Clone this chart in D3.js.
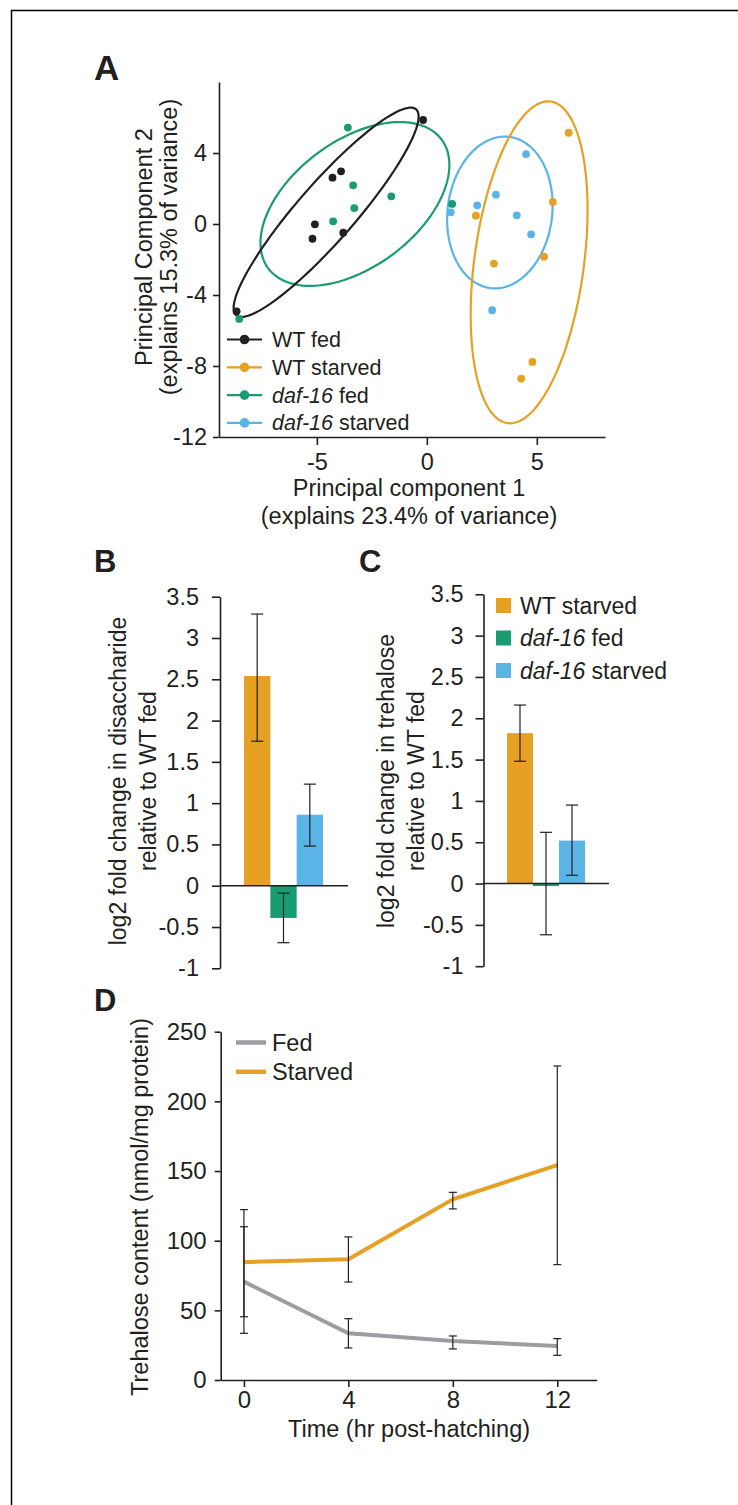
<!DOCTYPE html>
<html>
<head>
<meta charset="utf-8">
<script src="https://cdn.jsdelivr.net/npm/d3@7"></script>
<style>
  body { margin: 0; background: #fff; }
  text { font-family: "Liberation Sans", Arial, sans-serif; fill: #231f20; }
</style>
</head>
<body>
<div id="figure"></div>
<script>
// panel A - PCA scores (PC1, PC2) for each group
var pcaGroups = ["WT fed", "WT starved", "daf-16 fed", "daf-16 starved"];
var wtFedPC1 = [-0.17, -3.9, -4.29, -5.09, -5.2, -3.8, -8.65];
var wtFedPC2 = [5.86, 2.97, 2.61, -0.02, -0.83, -0.49, -4.92];
var wtStarvedPC1 = [6.45, 5.73, 2.23, 3.05, 5.33, 4.8, 4.29];
var wtStarvedPC2 = [5.14, 1.24, 0.47, -2.23, -1.84, -7.77, -8.71];
var dafFedPC1 = [-3.59, -3.35, -3.3, -4.26, -1.62, -8.53, 1.15];
var dafFedPC2 = [5.43, 2.18, 0.9, 0.15, 1.56, -5.35, 1.13];
var dafStarvedPC1 = [1.09, 2.29, 3.14, 4.51, 4.09, 4.74, 2.97];
var dafStarvedPC2 = [0.66, 1.05, 1.65, 3.94, 0.49, -0.58, -4.86];

// confidence ellipses (centre and two conjugate semi-axes, in PC units), same order as pcaGroups
var ellipseCX = [-4.58, 4.65, -3.27, 3.32];
var ellipseCY = [0.66, -2.16, 1.13, 0.65];
var ellipseUX = [4.09, 0.98, 3.94, 0.43];
var ellipseUY = [5.80, 9.06, 3.63, 4.26];
var ellipseVX = [0.98, 2.47, 1.71, 2.36];
var ellipseVY = [-1.06, -0.41, -2.85, -0.37];

var pcaXTicks = [-5, 0, 5];
var pcaYTicks = [-12, -8, -4, 0, 4];

// panels B and C - log2 fold change relative to WT fed
var barGroups = ["WT starved", "daf-16 fed", "daf-16 starved"];
var disaccharideMean = [2.54, -0.39, 0.86];
var disaccharideLow = [1.75, -0.69, 0.48];
var disaccharideHigh = [3.29, -0.09, 1.23];
var trehaloseMean = [1.82, -0.03, 0.52];
var trehaloseLow = [1.48, -0.62, 0.10];
var trehaloseHigh = [2.16, 0.62, 0.95];
var foldTicks = [-1, -0.5, 0, 0.5, 1, 1.5, 2, 2.5, 3, 3.5];

// panel D - trehalose content over time
var hours = [0, 4, 8, 12];
var fedMean = [70.6, 33.5, 28, 24.4];
var fedLow = [33.5, 23, 22.3, 17.7];
var fedHigh = [110, 44, 31.6, 29.7];
var starvedMean = [84.6, 86.6, 129.7, 154.3];
var starvedLow = [45.4, 70.3, 122.8, 82.8];
var starvedHigh = [122.3, 102.7, 134.7, 225.4];
var contentTicks = [0, 50, 100, 150, 200, 250];

var ink = "#231f20";
var groupColors = ["#231f20", "#E6A024", "#1A9C72", "#5AB4E6"];
var barColors = groupColors.slice(1);
var lineColors = ["#9C9DA0", "#E6A024"];

var svg = d3.select("#figure").append("svg")
  .attr("width", 738)
  .attr("height", 1505);

svg.append("rect").attr("width", 738).attr("height", 1505).attr("fill", "#fff");

// frame lines at top / left
svg.append("path").attr("d", "M11.5,1505V10.5H738").attr("fill", "none").attr("stroke", "#000").attr("stroke-width", 1.5);

function styleAxis(g, size) {
  g.select(".domain").attr("stroke", ink).attr("stroke-width", 1.6);
  g.selectAll(".tick line").attr("stroke", ink).attr("stroke-width", 1.6);
  g.selectAll(".tick text").attr("font-size", size).attr("fill", ink)
    .attr("font-family", "'Liberation Sans', Arial, sans-serif");
}

function panelLetter(label, x, y, size) {
  svg.append("text").attr("x", x).attr("y", y).attr("font-size", size)
    .attr("font-weight", "bold").text(label);
}

function groupLabel(sel, name) {
  // italic gene name
  if (name.indexOf("daf-16") === 0) {
    sel.append("tspan").attr("font-style", "italic").text("daf-16");
    sel.append("tspan").text(name.slice(6));
  } else {
    sel.text(name);
  }
}

function multiLineTitle(lines, x, y, rotate, gap, size) {
  var t = svg.append("text").attr("font-size", size).attr("text-anchor", "middle");
  if (rotate) {
    t.attr("transform", "translate(" + x + "," + y + ") rotate(-90)");
  } else {
    t.attr("transform", "translate(" + x + "," + y + ")");
  }
  lines.forEach(function(line, i) {
    t.append("tspan").attr("x", 0).attr("y", i * gap).text(line);
  });
}

/* ---------------- Panel A ---------------- */
panelLetter("A", 94, 80, 35);

var xA = d3.scaleLinear().domain([-9.45, 8.1]).range([219, 605]);
var yA = d3.scaleLinear().domain([-12, 8]).range([437, 82]);

svg.append("g").attr("transform", "translate(0,437)")
  .call(d3.axisBottom(xA).tickValues(pcaXTicks).tickSize(8).tickSizeOuter(0).tickPadding(8).tickFormat(function(d) { return String(d); }))
  .call(styleAxis, 23.5);
svg.append("g").attr("transform", "translate(219,0)")
  .call(d3.axisLeft(yA).tickValues(pcaYTicks).tickSize(6).tickSizeOuter(0).tickPadding(6).tickFormat(function(d) { return String(d); }))
  .call(styleAxis, 23.5);

var pcaPoints = [
  d3.zip(wtFedPC1, wtFedPC2),
  d3.zip(wtStarvedPC1, wtStarvedPC2),
  d3.zip(dafFedPC1, dafFedPC2),
  d3.zip(dafStarvedPC1, dafStarvedPC2)
];

var ellipseLine = d3.line()
  .x(function(p) { return xA(p[0]); })
  .y(function(p) { return yA(p[1]); })
  .curve(d3.curveLinearClosed);

// draw order: daf-16 starved, daf-16 fed, WT fed, WT starved
[3, 2, 0, 1].forEach(function(g) {
  var pts = d3.range(120).map(function(k) {
    var t = k / 120 * 2 * Math.PI;
    return [ellipseCX[g] + ellipseUX[g] * Math.cos(t) + ellipseVX[g] * Math.sin(t),
            ellipseCY[g] + ellipseUY[g] * Math.cos(t) + ellipseVY[g] * Math.sin(t)];
  });
  svg.append("path").attr("d", ellipseLine(pts))
    .attr("fill", "none").attr("stroke", groupColors[g]).attr("stroke-width", 2.2);
});

[3, 2, 1, 0].forEach(function(g) {
  svg.append("g").selectAll("circle")
    .data(pcaPoints[g])
    .enter().append("circle")
    .attr("cx", function(p) { return xA(p[0]); })
    .attr("cy", function(p) { return yA(p[1]); })
    .attr("r", 3.9)
    .attr("fill", groupColors[g]);
});

var legendA = svg.append("g").selectAll("g")
  .data(pcaGroups)
  .enter().append("g")
  .attr("transform", function(d, i) { return "translate(227," + (339.5 + i * 27.8) + ")"; });
legendA.append("line").attr("x1", 0).attr("x2", 35)
  .attr("stroke", function(d, i) { return groupColors[i]; }).attr("stroke-width", 2.2);
legendA.append("circle").attr("cx", 17.5).attr("r", 4.8)
  .attr("fill", function(d, i) { return groupColors[i]; });
legendA.append("text").attr("x", 45).attr("dy", "0.35em").attr("font-size", 21.5)
  .each(function(d) { groupLabel(d3.select(this), d); });

multiLineTitle(["Principal component 1", "(explains 23.4% of variance)"], 409, 496, false, 28, 23.5);
multiLineTitle(["Principal Component 2", "(explains 15.3% of variance)"], 152, 247, true, 25, 23.5);

/* ---------------- Panels B and C ---------------- */
function barPanel(opts) {
  var y = d3.scaleLinear().domain([-1, 3.5]).range(opts.yRange);
  var x = d3.scaleBand().domain(barGroups).range(opts.xRange).padding(0);

  svg.append("g").attr("transform", "translate(" + opts.axisX + ",0)")
    .call(d3.axisLeft(y).tickValues(foldTicks).tickSize(8).tickSizeOuter(0).tickPadding(opts.pad).tickFormat(function(d) { return String(d); }))
    .call(styleAxis, 23.5);

  svg.append("g").selectAll("rect")
    .data(barGroups)
    .enter().append("rect")
    .attr("x", function(d) { return x(d); })
    .attr("width", x.bandwidth())
    .attr("y", function(d, i) { return y(Math.max(0, opts.mean[i])); })
    .attr("height", function(d, i) { return Math.abs(y(opts.mean[i]) - y(0)); })
    .attr("fill", function(d, i) { return barColors[i]; });

  svg.append("line").attr("x1", opts.axisX).attr("x2", opts.zeroEnd)
    .attr("y1", y(0)).attr("y2", y(0)).attr("stroke", ink).attr("stroke-width", 1.6);

  var err = svg.append("g").attr("stroke", ink).attr("stroke-width", 1.2);
  barGroups.forEach(function(d, i) {
    var cx = x(d) + x.bandwidth() / 2;
    err.append("line").attr("x1", cx).attr("x2", cx).attr("y1", y(opts.low[i])).attr("y2", y(opts.high[i]));
    err.append("line").attr("x1", cx - 6).attr("x2", cx + 6).attr("y1", y(opts.low[i])).attr("y2", y(opts.low[i]));
    err.append("line").attr("x1", cx - 6).attr("x2", cx + 6).attr("y1", y(opts.high[i])).attr("y2", y(opts.high[i]));
  });

  multiLineTitle(opts.title, opts.titleX, 781, true, 30, 23);
}

panelLetter("B", 94, 572, 31);
barPanel({
  mean: disaccharideMean, low: disaccharideLow, high: disaccharideHigh,
  yRange: [968.3, 596.7], xRange: [244, 323], axisX: 220, zeroEnd: 348, pad: 13,
  title: ["log2 fold change in disaccharide", "relative to WT fed"], titleX: 126
});

panelLetter("C", 359, 572, 31);
barPanel({
  mean: trehaloseMean, low: trehaloseLow, high: trehaloseHigh,
  yRange: [966.2, 594.3], xRange: [507, 585], axisX: 483.5, zeroEnd: 609, pad: 12,
  title: ["log2 fold change in trehalose", "relative to WT fed"], titleX: 394
});

var legendC = svg.append("g").selectAll("g")
  .data(barGroups)
  .enter().append("g")
  .attr("transform", function(d, i) { return "translate(496," + (605.5 + i * 32.5) + ")"; });
legendC.append("rect").attr("y", -7.5).attr("width", 15).attr("height", 15)
  .attr("fill", function(d, i) { return barColors[i]; });
legendC.append("text").attr("x", 24).attr("dy", "0.35em").attr("font-size", 23)
  .each(function(d) { groupLabel(d3.select(this), d); });

/* ---------------- Panel D ---------------- */
panelLetter("D", 94, 1011, 31);

var xD = d3.scaleLinear().domain([-0.89, 13.51]).range([220.7, 596.7]);
var yD = d3.scaleLinear().domain([0, 250]).range([1380, 1031.7]);

svg.append("g").attr("transform", "translate(0,1380)")
  .call(d3.axisBottom(xD).tickValues(hours).tickSize(7).tickSizeOuter(0).tickPadding(4))
  .call(styleAxis, 24);
svg.append("g").attr("transform", "translate(220.7,0)")
  .call(d3.axisLeft(yD).tickValues(contentTicks).tickSize(6).tickSizeOuter(0).tickPadding(8))
  .call(styleAxis, 24);

var series = [
  { name: "Fed", mean: fedMean, low: fedLow, high: fedHigh },
  { name: "Starved", mean: starvedMean, low: starvedLow, high: starvedHigh }
];

var trend = d3.line()
  .x(function(d, i) { return xD(hours[i]); })
  .y(function(d) { return yD(d); });

series.forEach(function(s, k) {
  svg.append("path").attr("d", trend(s.mean))
    .attr("fill", "none").attr("stroke", lineColors[k]).attr("stroke-width", 4);
});

series.forEach(function(s) {
  var err = svg.append("g").attr("stroke", ink).attr("stroke-width", 1.2);
  hours.forEach(function(h, i) {
    var cx = xD(h);
    err.append("line").attr("x1", cx).attr("x2", cx).attr("y1", yD(s.low[i])).attr("y2", yD(s.high[i]));
    err.append("line").attr("x1", cx - 4).attr("x2", cx + 4).attr("y1", yD(s.low[i])).attr("y2", yD(s.low[i]));
    err.append("line").attr("x1", cx - 4).attr("x2", cx + 4).attr("y1", yD(s.high[i])).attr("y2", yD(s.high[i]));
  });
});

var legendD = svg.append("g").selectAll("g")
  .data(series)
  .enter().append("g")
  .attr("transform", function(d, i) { return "translate(236," + (1042.5 + i * 29.3) + ")"; });
legendD.append("line").attr("x1", 0).attr("x2", 30)
  .attr("stroke", function(d, i) { return lineColors[i]; }).attr("stroke-width", 4.5);
legendD.append("text").attr("x", 36).attr("dy", "0.35em").attr("font-size", 23.5)
  .text(function(d) { return d.name; });

multiLineTitle(["Trehalose content (nmol/mg protein)"], 148, 1207, true, 0, 23.5);
multiLineTitle(["Time (hr post-hatching)"], 409, 1437, false, 0, 23.5);
</script>
</body>
</html>
